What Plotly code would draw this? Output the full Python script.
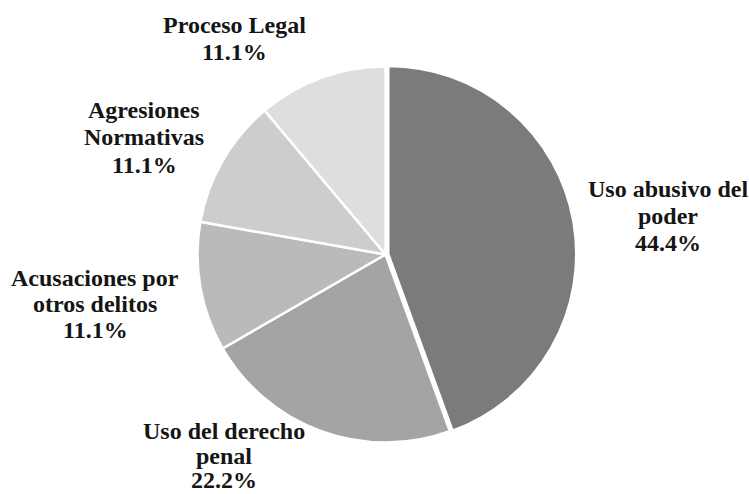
import plotly.graph_objects as go

# Case counts per category (9 cases in total)
categorias = [
    "Uso abusivo del poder",
    "Uso del derecho penal",
    "Acusaciones por otros delitos",
    "Agresiones Normativas",
    "Proceso Legal",
]
lineas_etiqueta = [
    ["Uso abusivo del", "poder"],
    ["Uso del derecho", "penal"],
    ["Acusaciones por", "otros delitos"],
    ["Agresiones", "Normativas"],
    ["Proceso Legal"],
]
casos = [4, 2, 1, 1, 1]
colores = ["#7b7b7d", "#a3a4a6", "#bababa", "#cdcdcd", "#dedede"]

# Label placement in pixels: centre x, centre y of the first line, line step
lbl_x = [668, 224, 95, 144, 234]
lbl_y0 = [189, 431, 278, 110, 25]
lbl_paso = [27, 24.5, 26, 27.5, 27]

W, H = 749, 494
cx, cy, r = 385.5, 254.5, 188
pull = 0.015
rr = r * (1 + pull)

FUENTE = "Liberation Serif"

fig = go.Figure(
    go.Pie(
        labels=categorias,
        values=casos,
        sort=False,
        direction="clockwise",
        rotation=0,
        marker=dict(colors=colores, line=dict(color="white", width=2.5)),
        pull=[pull, 0, 0, 0, 0],
        textinfo="none",
        hoverinfo="label+percent",
        showlegend=False,
        domain=dict(
            x=[(cx - rr) / W, (cx + rr) / W],
            y=[1 - (cy + rr) / H, 1 - (cy - rr) / H],
        ),
    )
)

total = sum(casos)
for lineas, v, x, y0, paso in zip(lineas_etiqueta, casos, lbl_x, lbl_y0, lbl_paso):
    textos = lineas + [f"{100 * v / total:.1f}%"]
    for k, t in enumerate(textos):
        fig.add_annotation(
            x=x / W, y=1 - (y0 + k * paso) / H, xref="paper", yref="paper",
            text=f"<b>{t}</b>",
            showarrow=False, align="center",
            xanchor="center", yanchor="middle",
            font=dict(family=FUENTE, size=24, color="#151515"),
        )

fig.update_layout(
    width=W, height=H,
    margin=dict(l=0, r=0, t=0, b=0),
    font=dict(family=FUENTE),
    paper_bgcolor="white",
    plot_bgcolor="white",
)

fig.write_html("out.html")
